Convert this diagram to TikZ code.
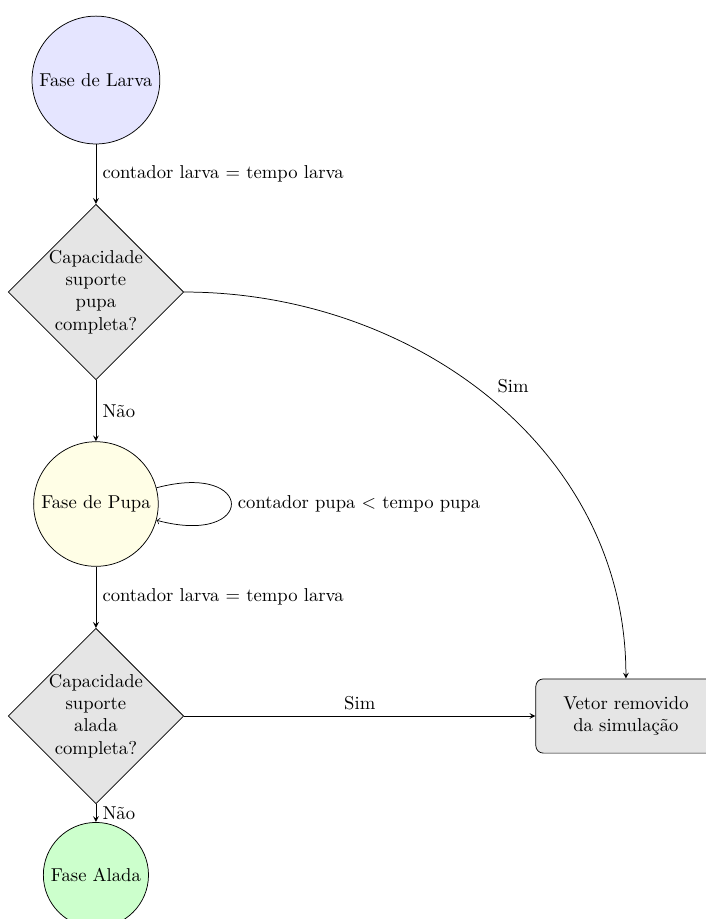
\documentclass[tikz,border=0pt]{standalone}
\usetikzlibrary{shapes.geometric,arrows}
\begin{document}
\begin{tikzpicture}[
  stage/.style={circle,draw,inner sep=3.33pt},
  decision/.style={diamond,aspect=1,draw,fill=gray!20,text width=1.8cm,
    align=center,inner sep=-0.5pt},
  endbox/.style={rectangle,rounded corners=4pt,draw,fill=gray!20,
    minimum width=3.4cm,minimum height=1.4cm,align=center},
  flow/.style={-stealth},
  selfloop/.style={->}
]
\useasboundingbox (-1.81,-15.83) rectangle (11.51,1.51);
\clip (-1.81,-15.83) rectangle (11.51,1.51);

\node[stage,fill=blue!10] (larva) at (0,0) {Fase de Larva};
\node[decision] (cap1) at (0,-4) {Capacidade suporte pupa completa?};
\node[stage,fill=yellow!10] (pupa) at (0,-8) {Fase de Pupa};
\node[decision] (cap2) at (0,-12) {Capacidade suporte alada completa?};
\node[stage,fill=green!20] (alada) at (0,-15) {Fase Alada};
\node[endbox] (fim) at (10,-12) {Vetor removido\\da simulação};

\draw[flow] (larva) -- node[right] {contador larva = tempo larva} (cap1);
\draw[flow] (cap1) -- node[right] {Não} (pupa);
\draw[flow] (cap1.east) to[out=0,in=90] node[above right] {Sim} (fim.north);
\draw[selfloop] (pupa.15) .. controls +(15:1.95cm) and +(-15:1.95cm)
  .. node[right] {contador pupa $<$ tempo pupa} (pupa.-15);
\draw[flow] (pupa) -- node[right] {contador larva = tempo larva} (cap2);
\draw[flow] (cap2) -- node[above] {Sim} (fim);
\draw[flow] (cap2) -- node[right] {Não} (alada);
\end{tikzpicture}
\end{document}
